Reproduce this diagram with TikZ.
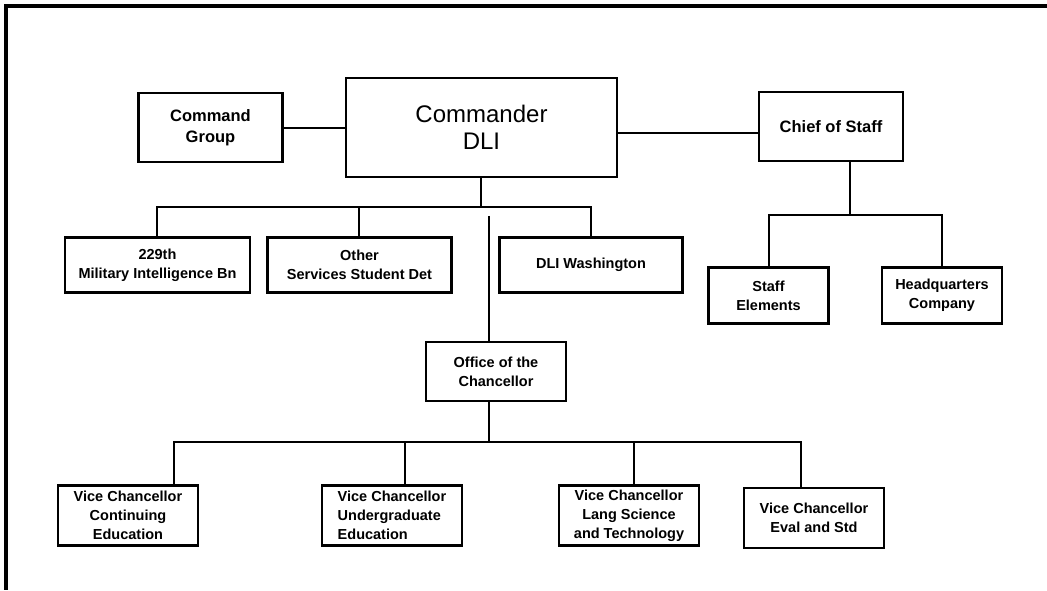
\documentclass[tikz,border=0pt]{standalone}
\usepackage{fontspec}
\setmainfont{Liberation Sans}
\usepackage{tikz}
\usetikzlibrary{shapes.geometric}
\tikzstyle{line} = [line width=2pt]
\tikzstyle{box} = [rectangle, draw=black, line width=2.3pt, inner sep=0pt, align=center, font=\bfseries\fontsize{14.5}{19}\selectfont]
\tikzstyle{midbox} = [box, minimum width=144pt, minimum height=69pt, font=\bfseries\fontsize{16.5}{20.5}\selectfont]
\tikzstyle{bigbox} = [box, minimum width=271pt, minimum height=99pt, font=\fontsize{24}{27}\selectfont]
\tikzstyle{unitbox} = [box, minimum width=183pt, minimum height=55pt]
\tikzstyle{vcbox} = [box, minimum width=140pt, minimum height=60pt]
\tikzstyle{staffbox} = [box, minimum width=120pt, minimum height=56pt]

\begin{document}
\begin{tikzpicture}[node distance=100pt]
		\useasboundingbox (-481.5pt,127.5pt) rectangle (565.5pt,-462.5pt);
		\draw [line width=3.3pt] (565.5pt,121.5pt) -- (-475.5pt,121.5pt) -- (-475.5pt,-462.5pt);
		\node (cdr) [bigbox] {Commander\\DLI};
		\node (cg) [midbox, left of=cdr, xshift=-171pt] {Command\\Group};
		\draw [line] (cg) -- (cdr);
		\node (cos) [midbox, right of=cdr, xshift=249.5pt, yshift=1pt] {Chief of Staff};
		\draw [line] ([yshift=-5.5pt]cdr.east) -- ([yshift=-5.5pt]cdr.east -| cos.west);
		\node (dliw) [unitbox, below of=cdr, xshift=109.5pt, yshift=-37.5pt] {DLI Washington};
		\node (oss) [unitbox, minimum width=184pt, left of=dliw, xshift=-131.5pt] {Other\\Services Student Det};
		\node (mib) [unitbox, minimum width=185pt, left of=oss, xshift=-102pt] {229th\\Military Intelligence Bn};
		\coordinate (bus1) at ([yshift=-29pt]cdr.south);
		\draw [line] (cdr.south) -- (bus1);
		\draw [line] (mib.north) |- (bus1) -| (dliw.north);
		\draw [line] (oss.north) -- (oss.north |- bus1);
		\node (oc) [box, minimum width=140pt, minimum height=59pt, below of=dliw, xshift=-95pt, yshift=-6.5pt] {Office of the\\Chancellor};
		\coordinate (vtop) at ([xshift=-7pt, yshift=125pt]oc.north);
		\draw [line] (vtop) -- (vtop |- oc.north);
		\node (vc2) [vcbox, align=left, below of=oc, xshift=-104pt, yshift=-44pt] {Vice Chancellor\\Undergraduate\\Education};
		\node (vc1) [vcbox, left of=vc2, xshift=-164pt] {Vice Chancellor\\Continuing\\Education};
		\node (vc3) [vcbox, right of=vc2, xshift=137pt] {Vice Chancellor\\Lang Science\\and Technology};
		\node (vc4) [vcbox, right of=vc3, xshift=85pt, yshift=-2.5pt] {Vice Chancellor\\Eval and Std};
		\coordinate (bus2) at ([xshift=-7pt, yshift=-40pt]oc.south);
		\draw [line] (bus2 |- oc.south) -- (bus2);
		\draw [line] ([xshift=46pt]vc1.north) |- (bus2) -| ([xshift=-13pt]vc4.north);
		\draw [line] ([xshift=13pt]vc2.north) -- ([xshift=13pt]vc2.north |- bus2);
		\draw [line] ([xshift=5pt]vc3.north) -- ([xshift=5pt]vc3.north |- bus2);
		\node (se) [staffbox, below of=cos, xshift=-62.5pt, yshift=-69pt] {Staff\\Elements};
		\node (hq) [staffbox, right of=se, xshift=73.5pt] {Headquarters\\Company};
		\coordinate (bus3) at ([xshift=19pt, yshift=-53pt]cos.south);
		\draw [line] (bus3 |- cos.south) -- (bus3);
		\draw [line] (se.north) |- (bus3) -| (hq.north);
\end{tikzpicture}
\end{document}
